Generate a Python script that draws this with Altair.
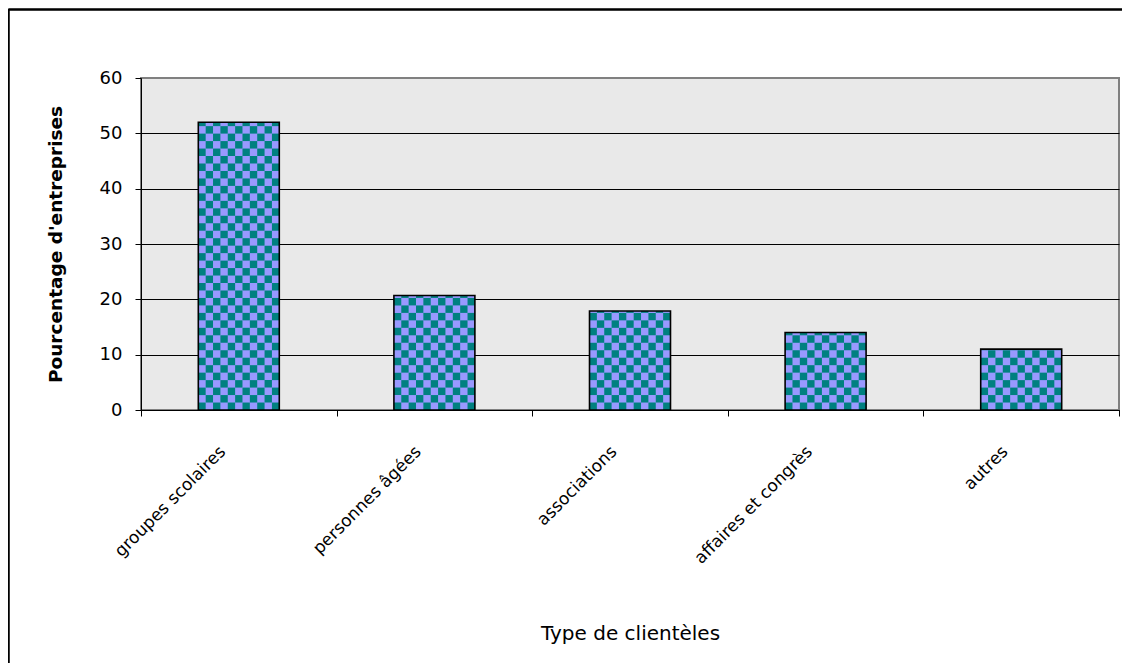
import math
import altair as alt
import pandas as pd

categories = ["groupes scolaires", "personnes âgées", "associations", "affaires et congrès", "autres"]
values = [52, 20.7, 17.9, 14, 11]

y_ticks = [0, 10, 20, 30, 40, 50, 60]

bars = pd.DataFrame({"cat": categories, "val": values})

# checkerboard cells derived from the bar values (decoration only)
N_COLS = 11
ROW_H = 1.35
cells = []
for c, v in zip(categories, values):
    nrows = math.ceil(v / ROW_H)
    for r in range(nrows):
        lo = r * ROW_H
        hi = min((r + 1) * ROW_H, v)
        for k in range(N_COLS):
            if (r + k) % 2 == 0:
                cells.append({"cat": c, "col": k, "lo": lo, "hi": hi})
cells = pd.DataFrame(cells)

FONT = "DejaVu Sans"
W, H = 978, 332
BAR_FRAC = 0.414

x_scale = alt.Scale(domain=categories, paddingInner=0, paddingOuter=0)
y_scale = alt.Scale(domain=[0, 60], nice=False)

x_enc = alt.X(
    "cat:N",
    scale=x_scale,
    sort=categories,
    axis=alt.Axis(
        title="Type de clientèles",
        labelAngle=-45,
        labelFont=FONT,
        labelFontSize=17,
        labelColor="black",
        labelPadding=27,
        labelOffset=-22,
        labelLimit=300,
        tickBand="extent",
        tickColor="black",
        tickSize=6,
        domainColor="black",
        domainWidth=1,
        grid=False,
        titleFont=FONT,
        titleFontSize=20,
        titleFontWeight="normal",
        titleColor="black",
        titleY=229,
        titleBaseline="alphabetic",
    ),
)

y_enc = alt.Y(
    "val:Q",
    scale=y_scale,
    axis=alt.Axis(
        title="Pourcentage d'entreprises",
        values=y_ticks,
        labelFont=FONT,
        labelFontSize=18,
        labelColor="black",
        labelPadding=13,
        tickColor="black",
        tickSize=6,
        domainColor="black",
        grid=True,
        gridColor={"condition": {"test": "datum.value == 60", "value": "#808080"}, "value": "black"},
        gridWidth=1,
        gridOpacity=1,
        titleFont=FONT,
        titleFontSize=18.5,
        titleFontWeight="bold",
        titleColor="black",
        titleAngle=-90,
        titleX=-86,
        titleY=H / 2,
        titleAlign="center",
        titleBaseline="middle",
    ),
)

base_bar = alt.Chart(bars).mark_bar(
    color="#9999FF", strokeWidth=0, width=alt.RelativeBandSize(BAR_FRAC)
).encode(x=x_enc, y=y_enc)

# 11 checker columns centred in the band: 7 empty slots each side + fractional outer padding
SIDE = 7
slots = N_COLS + 2 * SIDE
pad_outer = (N_COLS / BAR_FRAC - slots) / 2
checks = alt.Chart(cells).mark_rect(color="#008080", strokeWidth=0).encode(
    x=alt.X("cat:N", scale=x_scale, sort=categories),
    xOffset=alt.XOffset(
        "col:O",
        scale=alt.Scale(domain=list(range(-SIDE, N_COLS + SIDE)), paddingInner=0, paddingOuter=pad_outer),
    ),
    y=alt.Y("lo:Q", scale=y_scale),
    y2="hi:Q",
)

outline = alt.Chart(bars).mark_bar(
    fillOpacity=0, stroke="black", strokeWidth=1.6, width=alt.RelativeBandSize(BAR_FRAC)
).encode(
    x=alt.X("cat:N", scale=x_scale, sort=categories),
    y=alt.Y("val:Q", scale=y_scale),
)

frame_left = alt.Chart(bars).mark_rule(color="black", strokeWidth=1.5).encode(
    x=alt.value(-132.5), y=alt.value(-68.5), y2=alt.value(700)
)
frame_top = alt.Chart(bars).mark_rule(color="black", strokeWidth=1.5).encode(
    x=alt.value(-132.5), x2=alt.value(1200), y=alt.value(-68.5)
)

chart = (
    alt.layer(base_bar, checks, outline, frame_left, frame_top)
    .properties(
        width=W,
        height=H,
        autosize=alt.AutoSizeParams(type="none"),
        padding={"left": 133, "top": 70, "right": 3, "bottom": 253},
        background="white",
    )
    .configure_view(fill="#E9E9E9", stroke="#808080", strokeWidth=2)
)

chart.save("out.html", embed_options={"renderer": "svg", "actions": False})
